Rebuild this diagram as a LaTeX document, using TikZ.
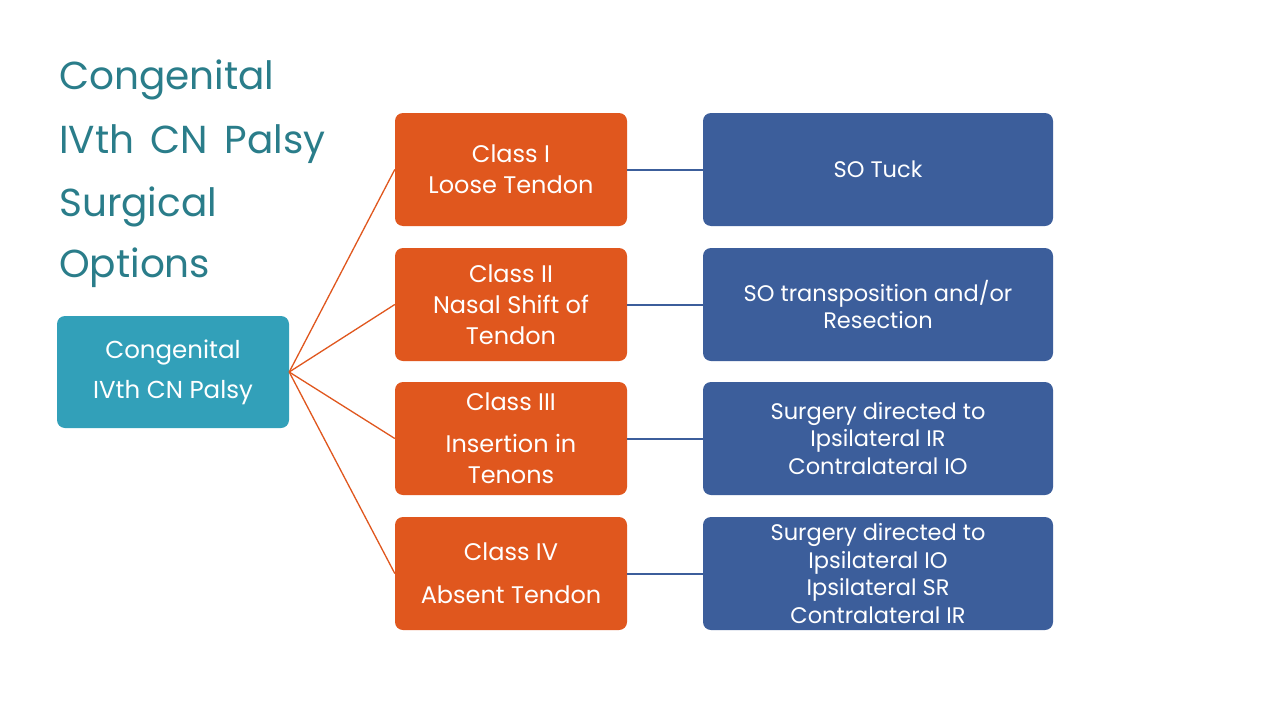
\documentclass[tikz,border=0pt]{standalone}
\usepackage{fontspec}
\setmainfont{Poppins}
\definecolor{titlec}{RGB}{42,125,138}
\definecolor{tealc}{RGB}{50,160,185}
\definecolor{orangec}{RGB}{224,87,30}
\definecolor{bluec}{RGB}{60,94,155}
\newcommand\mytitlefont{\fontsize{39}{40}\selectfont\spaceskip=0.42em\relax}
\begin{document}
\begin{tikzpicture}[x=1pt,y=-1pt,
  box/.style={rounded corners=8pt, inner sep=0pt, align=center, text=white},
  rootbox/.style={box, fill=tealc, minimum width=232pt, minimum height=112pt, font=\fontsize{24.5}{30}\selectfont},
  classbox/.style={box, fill=orangec, minimum width=232pt, minimum height=113pt, font=\fontsize{24}{31}\selectfont},
  surgbox/.style={box, fill=bluec, minimum width=350pt, minimum height=113pt, font=\fontsize{22.5}{27.5}\selectfont},
  tline/.style={draw=orangec, line width=1.3pt},
  bline/.style={draw=bluec, line width=2pt},
  titletext/.style={anchor=base west, inner sep=0pt, text=titlec, font=\mytitlefont}
]
\useasboundingbox (0,0) rectangle (1280,720);
\fill[white] (0,0) rectangle (1280,720);

\node[titletext] (t1) at (59,89) {Congenital};
\node[titletext] (t2) at (59,153) {IVth CN Palsy};
\node[titletext] (t3) at (59,216) {Surgical};
\node[titletext] (t4) at (59,277) {Options};

\node[rootbox] (root) at (173,372) {Congenital\\[10pt]IVth CN Palsy};

\node[classbox] (c1) at (511,169.5) {Class I\\Loose Tendon};
\node[classbox] (c2) at (511,304.5) {Class II\\Nasal Shift of\\Tendon};
\node[classbox] (c3) at (511,438.5) {Class III\\[11pt]Insertion in\\Tenons};
\node[classbox] (c4) at (511,573.5) {Class IV\\[12pt]Absent Tendon};

\node[surgbox] (s1) at (878,169.5) {SO Tuck};
\node[surgbox] (s2) at (878,304.5) {SO transposition and/or\\Resection};
\node[surgbox] (s3) at (878,438.5) {Surgery directed to\\Ipsilateral IR\\Contralateral IO};
\node[surgbox] (s4) at (878,573.5) {Surgery directed to\\Ipsilateral IO\\Ipsilateral SR\\Contralateral IR};

\foreach \c in {c1,c2,c3,c4} \draw[tline] (root.east) -- (\c.west);
\draw[bline] (c1.east) -- (s1.west);
\draw[bline] (c2.east) -- (s2.west);
\draw[bline] (c3.east) -- (s3.west);
\draw[bline] (c4.east) -- (s4.west);
\end{tikzpicture}
\end{document}
